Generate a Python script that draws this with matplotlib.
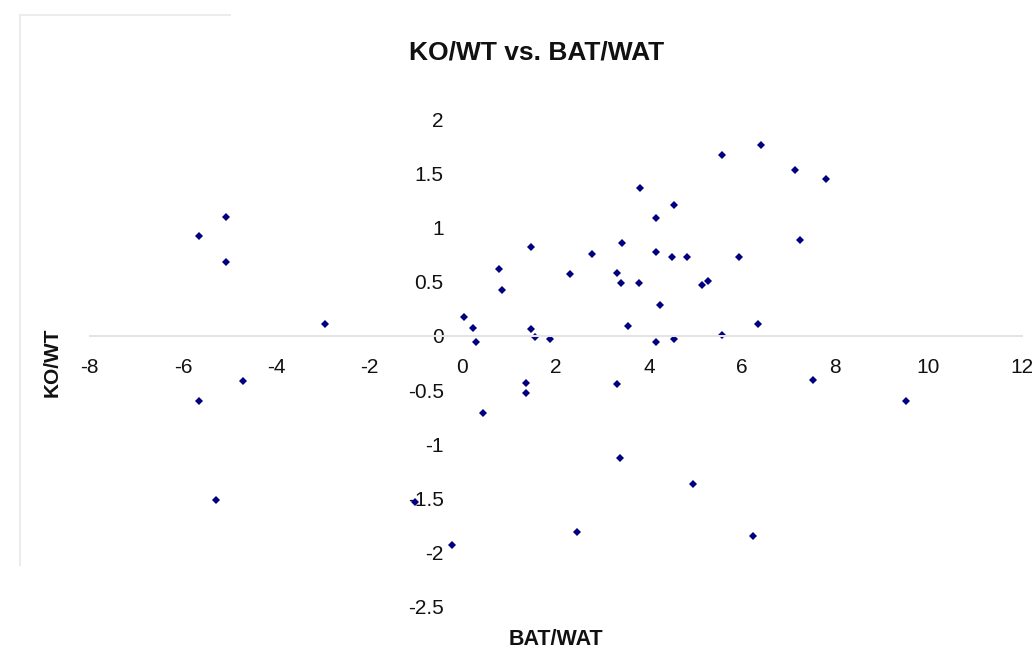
import matplotlib
matplotlib.use("Agg")
import matplotlib.pyplot as plt
from matplotlib.lines import Line2D

plt.rcParams['font.family'] = ['Liberation Sans', 'DejaVu Sans']

title = "KO/WT vs. BAT/WAT"
x_label = "BAT/WAT"
y_label = "KO/WT"

bat_wat = [
    -5.08, -5.66, -5.08, -2.95,
    -4.70, -5.66, -5.30, -1.02, -0.23, 0.44,
    0.04, 0.22, 0.30, 0.78, 0.85, 1.47, 1.47, 1.56, 1.88, 2.30,
    2.78, 3.31, 3.41, 3.42, 3.56, 3.79, 3.81, 4.16, 4.16, 4.16,
    4.24, 4.49, 4.54, 4.54, 4.81, 5.13, 5.27, 5.57, 5.57, 5.93,
    6.35, 6.40, 7.13, 7.24, 7.80,
    1.36, 1.37, 3.31, 7.53, 9.52, 3.38, 4.94, 2.45, 6.23,
]
ko_wt = [
    1.098, 0.926, 0.686, 0.108,
    -0.416, -0.600, -1.510, -1.530, -1.930, -0.710,
    0.175, 0.077, -0.052, 0.615, 0.420, 0.818, 0.062, -0.006, -0.028, 0.572,
    0.757, 0.585, 0.486, 0.862, 0.089, 0.486, 1.363, 1.092, 0.775, -0.052,
    0.283, 0.732, 1.209, -0.028, 0.732, 0.474, 0.508, 1.674, 0.009, 0.732,
    0.108, 1.760, 1.535, 0.886, 1.449,
    -0.430, -0.528, -0.447, -0.404, -0.596, -1.130, -1.368, -1.810, -1.846,
]

x_ticks = [-8, -6, -4, -2, 0, 2, 4, 6, 8, 10, 12]
y_ticks = [-2.5, -2, -1.5, -1, -0.5, 0, 0.5, 1, 1.5, 2]

fig = plt.figure(figsize=(10.32, 6.49), dpi=100)
ax = fig.add_axes([0.0869, 0.0650, 0.9031, 0.7512])

ax.plot(bat_wat, ko_wt, linestyle='none', marker='D', markersize=4.5,
        markeredgewidth=0, color='#000080', clip_on=False)

ax.set_xlim(-8, 12)
ax.set_ylim(-2.5, 2)
ax.set_xticks(x_ticks)
ax.set_yticks(y_ticks)
ax.set_xticklabels([f"{v:g}" for v in x_ticks])
ax.set_yticklabels([f"{v:g}" for v in y_ticks])

for s in ['top', 'right']:
    ax.spines[s].set_visible(False)
ax.spines['left'].set_position(('data', 0))
ax.spines['bottom'].set_position(('data', 0))
ax.spines['left'].set_visible(False)
ax.spines['bottom'].set_color('#e4e4e4')
ax.spines['bottom'].set_linewidth(1.5)

ax.tick_params(axis='x', length=0, pad=16, labelsize=15, colors='#111111')
ax.tick_params(axis='y', length=0, pad=13.5, labelsize=15, colors='#111111')
ax.patch.set_alpha(0)

fig.text(0.520, 0.919, title, ha='center', va='center', fontsize=19,
         fontweight='bold', color='#111111')
fig.text(0.0505, 0.442, y_label, ha='center', va='center', rotation=90,
         fontsize=15, fontweight='bold', color='#111111')
fig.text(0.539, 4 / 649, x_label, ha='center', va='baseline', fontsize=15.5,
         fontweight='bold', color='#111111')

# faint chart-area border remnants
fig.add_artist(Line2D([20/1032, 20/1032], [1 - 15/649, 1 - 565/649],
                      transform=fig.transFigure, color='#ececec', linewidth=1.5))
fig.add_artist(Line2D([20/1032, 230/1032], [1 - 15/649, 1 - 15/649],
                      transform=fig.transFigure, color='#ececec', linewidth=1.5))

fig.savefig('out.png', dpi=100)
